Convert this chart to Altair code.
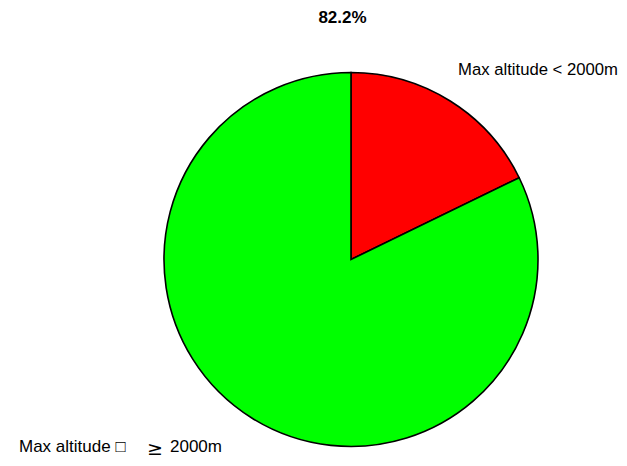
import altair as alt
import pandas as pd

# Data
categories = ["Max altitude < 2000m", "Max altitude ≥ 2000m"]
shares = [17.8, 82.2]
slice_colors = ["#ff0000", "#00ff00"]
title_text = "82.2%"
upper_label = "Max altitude < 2000m"
lower_label_parts = ["Max altitude \u25a1", "\u2265", "2000m"]

pie_df = pd.DataFrame({"category": categories, "share": shares, "order": list(range(len(categories)))})

pie = alt.Chart(pie_df).mark_arc(radius=187, stroke="black", strokeWidth=1.6).encode(
    theta=alt.Theta("share:Q", stack=True),
    color=alt.Color("category:N", scale=alt.Scale(domain=categories, range=slice_colors), legend=None),
    order=alt.Order("order:Q"),
    x=alt.value(343),
    y=alt.value(251.5),
)

FONT = "Liberation Sans"

title = alt.Chart(pd.DataFrame({"t": [title_text]})).mark_text(
    font=FONT, fontSize=17, fontWeight="bold", align="center", baseline="alphabetic", color="black"
).encode(text="t:N", x=alt.value(334.5), y=alt.value(15))

lab_up = alt.Chart(pd.DataFrame({"t": [upper_label]})).mark_text(
    font=FONT, fontSize=16.7, align="left", baseline="alphabetic", color="black"
).encode(text="t:N", x=alt.value(450), y=alt.value(67))

lab_low1 = alt.Chart(pd.DataFrame({"t": [lower_label_parts[0]]})).mark_text(
    font=FONT, fontSize=17, align="left", baseline="alphabetic", color="black"
).encode(text="t:N", x=alt.value(11), y=alt.value(444))

lab_low2 = alt.Chart(pd.DataFrame({"t": [lower_label_parts[1]]})).mark_text(
    font="DejaVu Sans", fontSize=19, align="left", baseline="alphabetic", color="black"
).encode(text="t:N", x=alt.value(139), y=alt.value(447))

lab_low3 = alt.Chart(pd.DataFrame({"t": [lower_label_parts[2]]})).mark_text(
    font=FONT, fontSize=17, align="left", baseline="alphabetic", color="black"
).encode(text="t:N", x=alt.value(162), y=alt.value(444))

chart = alt.layer(pie, title, lab_up, lab_low1, lab_low2, lab_low3).properties(
    width=611, height=450, autosize="none", padding=0
).configure_view(stroke=None)

chart.save("out.html", embed_options={"renderer": "svg", "actions": False})
